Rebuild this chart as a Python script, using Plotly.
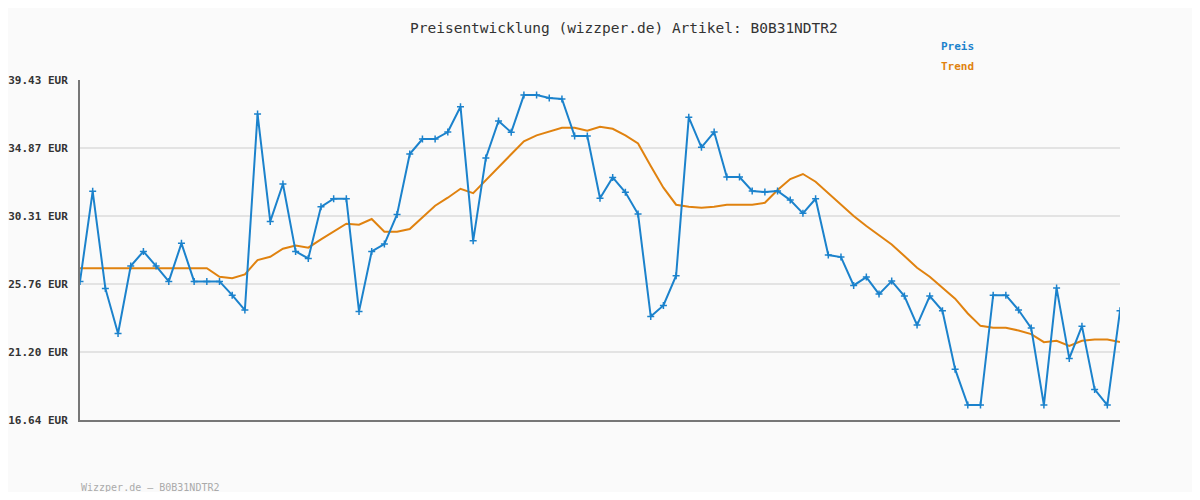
import plotly.graph_objects as go

preis = [25.93,31.97,25.46,22.44,26.96,27.94,26.96,25.93,28.48,25.93,25.93,25.93,25.01,24.01,37.15,29.95,32.46,27.94,27.47,30.93,
         31.47,31.47,23.92,27.94,28.43,30.42,34.47,35.47,35.47,35.94,37.64,28.65,34.2,36.68,35.92,38.42,38.42,38.22,38.16,35.67,
         35.67,31.50,32.90,31.90,30.44,23.58,24.32,26.31,36.93,34.92,35.94,32.92,32.92,31.99,31.92,31.99,31.38,30.49,31.47,27.7,
         27.56,25.66,26.22,25.08,25.95,24.95,23.0,24.95,23.96,20.05,17.64,17.64,25.01,25.01,24.01,22.8,17.64,25.48,20.77,22.93,
         18.69,17.64,23.96]
trend = [26.82]*11 + [26.24,26.15,26.4,27.36,27.58,28.12,28.34,28.19,28.75,29.26,29.8,29.73,30.11,29.26,29.26,29.44,30.22,31.0,31.54,
         32.14,31.85,32.72,33.57,34.51,35.32,35.72,35.99,36.23,36.23,36.03,36.30,36.16,35.72,35.18,33.66,32.21,31.07,30.93,30.87,
         30.93,31.07,31.07,31.07,31.2,32.05,32.79,33.13,32.61,31.83,31.05,30.31,29.64,29.01,28.41,27.63,26.84,26.24,25.53,24.77,
         23.78,22.95,22.82,22.82,22.64,22.4,21.86,21.95,21.61,21.95,22.04,22.04,21.86]
ticks = [16.64, 21.20, 25.76, 30.31, 34.87, 39.43]
tick_labels = [f"<b>{t:.2f} EUR</b>" for t in ticks]
x = list(range(len(preis)))

blue = "#1b82cc"
orange = "#e0820f"
font = "DejaVu Sans Mono"

def py(Y):  # page pixel y -> paper coord
    return (412 - (Y - 8)) / 340

def px(X):
    return (X - 80) / 1040

fig = go.Figure()
fig.add_trace(go.Scatter(x=x, y=trend, mode="lines", line=dict(color=orange, width=2), name="Trend"))
fig.add_trace(go.Scatter(x=x, y=preis, mode="lines+markers", line=dict(color=blue, width=2),
                         marker=dict(symbol="cross-thin", size=5, line=dict(color=blue, width=1.5)), name="Preis"))

fig.update_layout(
    width=1184, height=484, margin=dict(l=72, r=72, t=72, b=72, autoexpand=False),
    paper_bgcolor="#fafafa", plot_bgcolor="#fafafa", showlegend=False,
    font=dict(family=font, size=12, color="#333"),
    xaxis=dict(range=[0, len(preis)-1], showticklabels=False, showgrid=False, zeroline=False,
               showline=True, linecolor="#777", linewidth=2, ticks=""),
    yaxis=dict(range=[16.64, 39.43], tickvals=ticks, ticktext=tick_labels, showgrid=True, gridcolor="#e3e3e3",
               gridwidth=2, zeroline=False, showline=True, linecolor="#777", linewidth=2,
               ticks="", ticklabelstandoff=8, tickfont=dict(family=font, size=11, color="#333")),
    annotations=[
        dict(text="Preisentwicklung (wizzper.de) Artikel: B0B31NDTR2", xref="paper", yref="paper", x=px(624), y=py(28),
             xanchor="center", yanchor="middle", showarrow=False, font=dict(family=font, size=14.5, color="#333")),
        dict(text="<b>Preis</b>", xref="paper", yref="paper", x=px(939), y=py(47), xanchor="left",
             yanchor="middle", showarrow=False, font=dict(family=font, size=11, color=blue)),
        dict(text="<b>Trend</b>", xref="paper", yref="paper", x=px(939), y=py(67), xanchor="left",
             yanchor="middle", showarrow=False, font=dict(family=font, size=11, color=orange)),
        dict(text="Wizzper.de – B0B31NDTR2", xref="paper", yref="paper", x=px(79), y=py(487), xanchor="left",
             yanchor="middle", showarrow=False, font=dict(family=font, size=10, color="#aaa")),
    ],
)
fig.write_html("out.html")
